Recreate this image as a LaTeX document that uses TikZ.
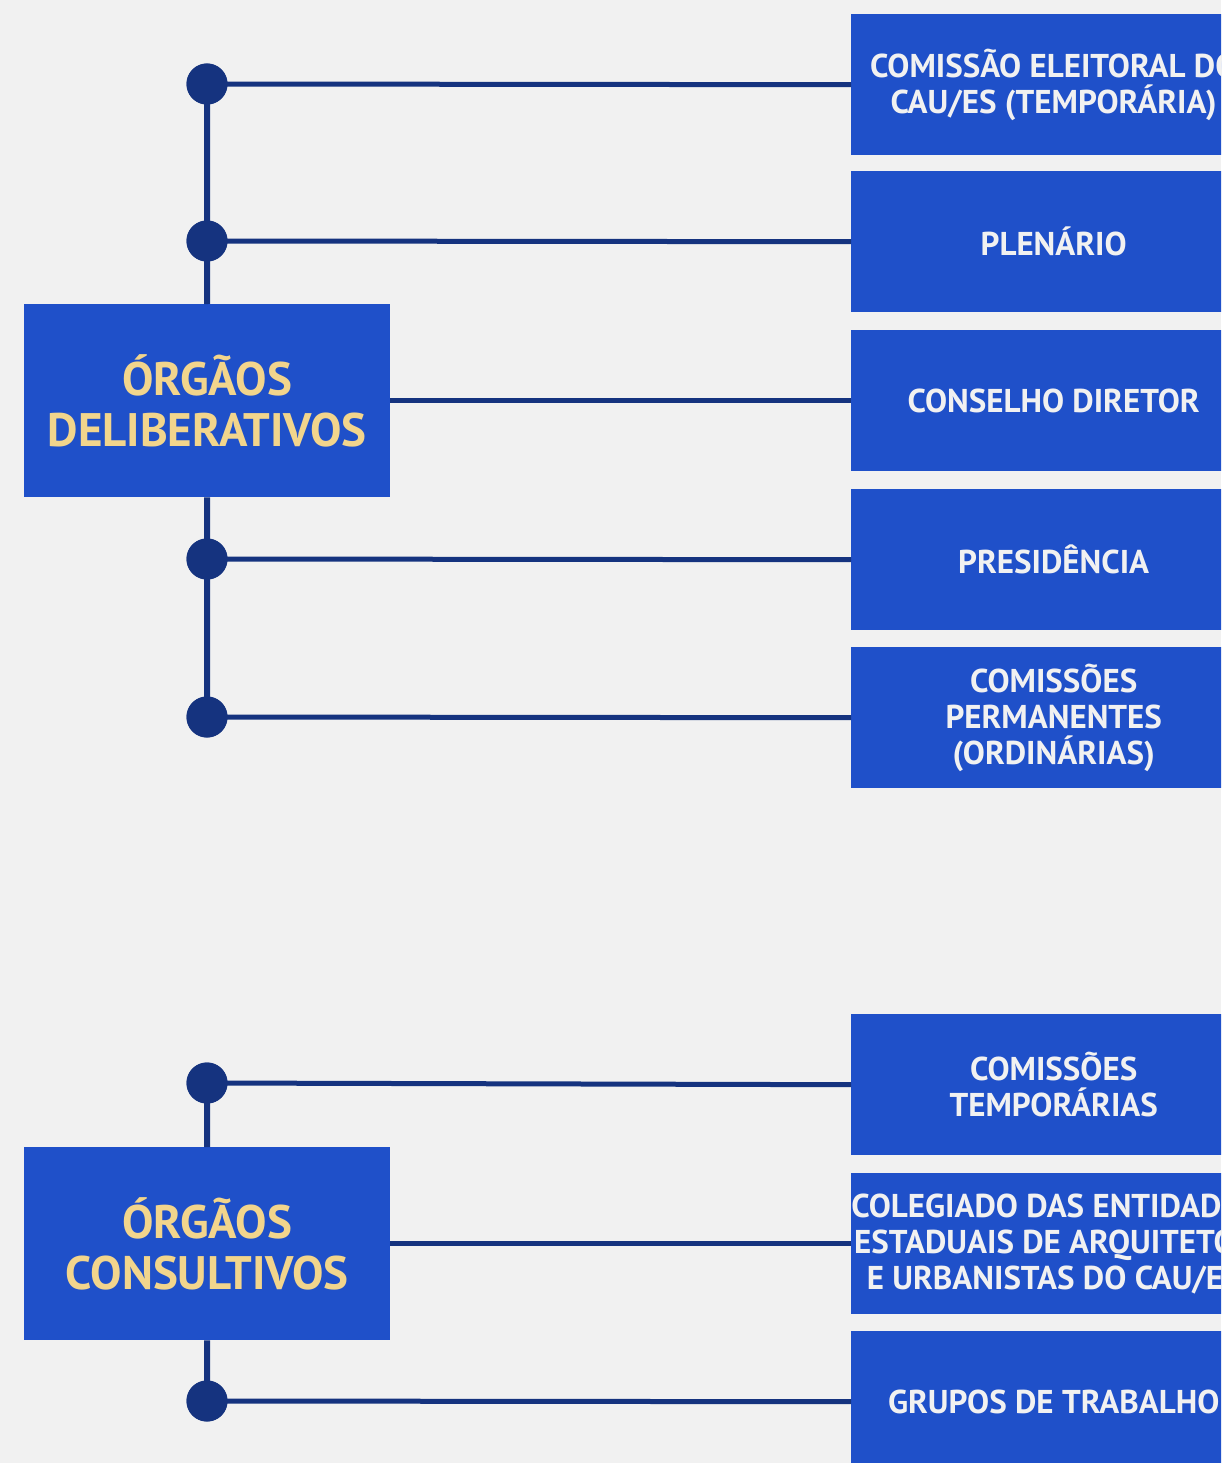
\documentclass[tikz,border=0pt]{standalone}
\usepackage{fontspec}
\setmainfont{PT Sans}
\definecolor{bg}{HTML}{F1F1F1}
\definecolor{boxblue}{HTML}{1F50C9}
\definecolor{navy}{HTML}{15337F}
\definecolor{gold}{HTML}{F2D58C}
\tikzset{
  rbox/.style={fill=boxblue, minimum width=405pt, minimum height=141pt, inner sep=0pt,
    text=bg, align=center, font=\bfseries\fontsize{33}{36}\selectfont, anchor=north west},
  lbox/.style={fill=boxblue, minimum width=366pt, minimum height=193pt, inner sep=0pt,
    text=gold, align=center, font=\bfseries\fontsize{47}{51}\selectfont, anchor=north west},
  dot/.style={circle, fill=navy, minimum size=41pt, inner sep=0pt},
  link/.style={draw=navy, line width=5pt},
  trunk/.style={draw=navy, line width=6pt}
}
\begin{document}
\begin{tikzpicture}[x=1pt,y=-1pt]
\useasboundingbox (0,0) rectangle (1221,1463);
\fill[bg] (0,0) rectangle (1221,1463);
\clip (0,0) rectangle (1221,1463);
% right boxes
\node[rbox] (r1) at (851,14) {COMISSÃO ELEITORAL DO\\CAU/ES (TEMPORÁRIA)};
\node[rbox] (r2) at (851,171) {PLENÁRIO};
\node[rbox] (r3) at (851,330) {CONSELHO DIRETOR};
\node[rbox] (r4) at (851,489) {PRESIDÊNCIA};
\node[rbox] (r5) at (851,647) {COMISSÕES\\PERMANENTES\\(ORDINÁRIAS)};
\node[rbox] (r6) at (851,1014) {COMISSÕES\\TEMPORÁRIAS};
\node[rbox] (r7) at (851,1173) {COLEGIADO DAS ENTIDADES\\ESTADUAIS DE ARQUITETOS\\E URBANISTAS DO CAU/ES};
\node[rbox] (r8) at (851,1331) {GRUPOS DE TRABALHO};
% left boxes
\node[lbox] (L1) at (24,304) {ÓRGÃOS\\DELIBERATIVOS};
\node[lbox] (L2) at (24,1147) {ÓRGÃOS\\CONSULTIVOS};
% trunks
\path[trunk] (207,84) -- (L1.north);
\path[trunk] (L1.south) -- (207,717);
\path[trunk] (207,1083) -- (L2.north);
\path[trunk] (L2.south) -- (207,1401);
% links
\path[link] (L1.east) -- (r3.west);
\path[link] (L2.east) -- (r7.west);
\node[dot] (d1) at (207,84) {};
\node[dot] (d2) at (207,241) {};
\node[dot] (d4) at (207,559) {};
\node[dot] (d5) at (207,717) {};
\node[dot] (d6) at (207,1083) {};
\node[dot] (d8) at (207,1401) {};
\path[link] (d1.center) -- (r1.west);
\path[link] (d2.center) -- (r2.west);
\path[link] (d4.center) -- (r4.west);
\path[link] (d5.center) -- (r5.west);
\path[link] (d6.center) -- (r6.west);
\path[link] (d8.center) -- (r8.west);
\node[dot] at (d1) {};
\node[dot] at (d2) {};
\node[dot] at (d4) {};
\node[dot] at (d5) {};
\node[dot] at (d6) {};
\node[dot] at (d8) {};
\end{tikzpicture}
\end{document}
